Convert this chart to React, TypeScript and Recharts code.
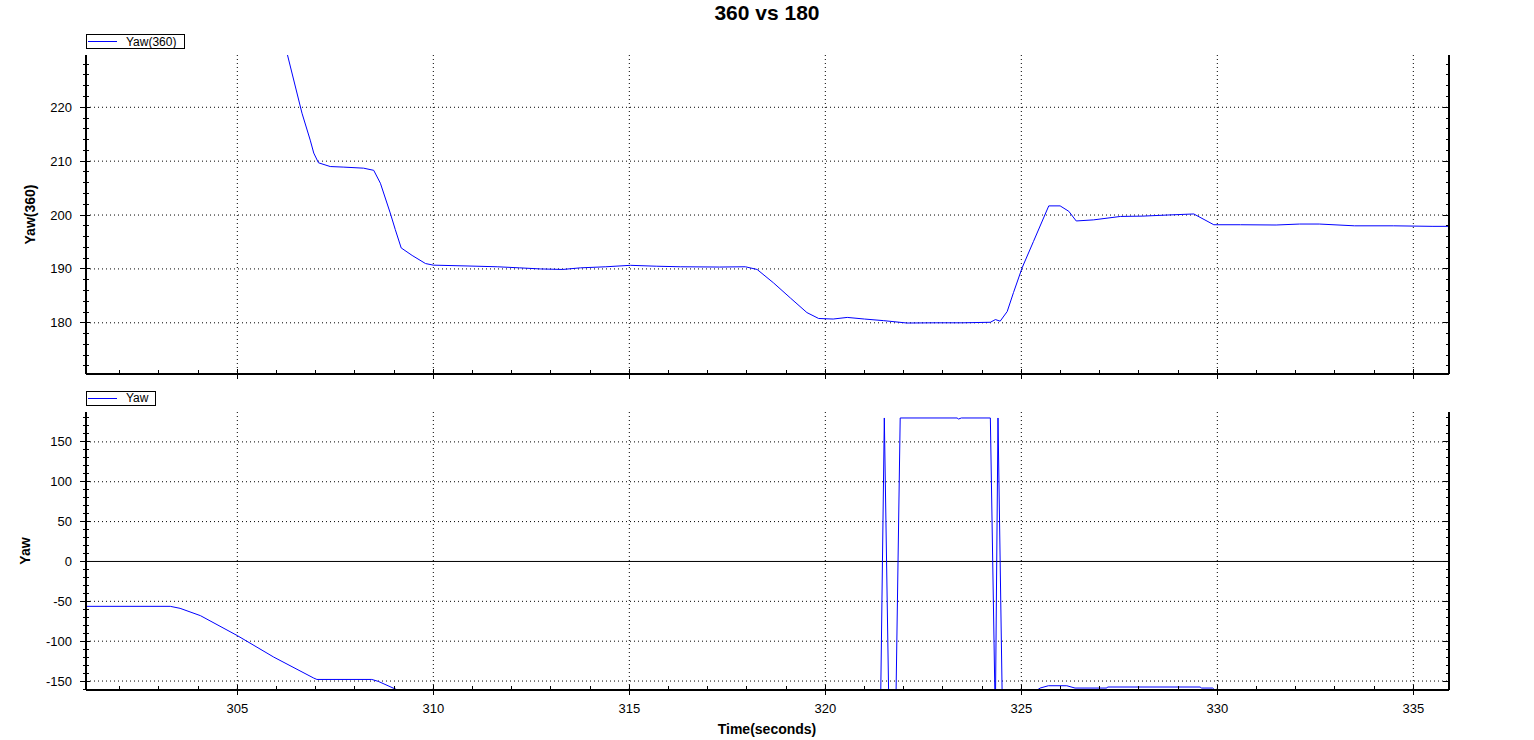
import React from 'react';
import { LineChart, Line, XAxis, YAxis, CartesianGrid, ReferenceLine } from 'recharts';

const FONT = '"Liberation Sans", Arial, sans-serif';
const BLUE = '#0000ff';
const W = 1534;

// Yaw(360) trace (top panel)
const yaw360Time = [
  301.14, 303.3, 303.55, 304.05, 305.0, 305.9, 306.28, 306.65, 306.86, 306.95, 307.07, 307.37,
  307.7, 308.22, 308.48, 308.65, 308.9, 309.03, 309.18, 309.46, 309.8, 310.0, 310.86, 311.63,
  312.2, 312.73, 313.3, 313.75, 314.4, 315.03, 315.7, 316.3, 317.3, 317.96, 318.26, 318.68,
  319.11, 319.53, 319.83, 320.2, 320.56, 321.0, 321.49, 322.08, 322.8, 323.5, 324.21, 324.34,
  324.46, 324.64, 324.8, 325.02, 325.31, 325.7, 325.99, 326.21, 326.4, 326.84, 327.53, 328.1,
  328.72, 329.4, 329.91, 330.59, 331.5, 332.1, 332.6, 333.5, 334.5, 335.5, 335.91,
];
const yaw360Values = [
  304, 304, 301.3, 292, 267, 240, 229.7, 218.9, 213.9, 211.5, 209.7, 209.0,
  208.9, 208.7, 208.3, 205.9, 200.4, 197.3, 193.9, 192.5, 191.0, 190.7, 190.55, 190.4,
  190.2, 190.0, 189.9, 190.2, 190.4, 190.67, 190.5, 190.4, 190.35, 190.4, 189.9, 187.4,
  184.6, 181.9, 180.8, 180.7, 181.0, 180.7, 180.4, 179.96, 180.0, 180.0, 180.1, 180.6,
  180.3, 182.1, 185.6, 190.2, 195.1, 201.7, 201.7, 200.7, 198.9, 199.1, 199.74, 199.8,
  200.0, 200.2, 198.2, 198.2, 198.15, 198.33, 198.33, 198.0, 198.0, 197.9, 197.9,
];

// Yaw trace (bottom panel), wraps at +/-180
const yawTime = [
  301.14, 303.29, 303.54, 304.06, 305.0, 305.93, 306.95, 307.03, 308.43, 308.6, 309.01, 309.5,
  312.0, 315.0, 318.0, 319.0, 319.8, 321.0, 321.41, 321.505, 321.62, 321.8, 321.91, 323.36,
  323.4, 323.47, 324.21, 324.33, 324.34, 324.405, 324.515, 324.9, 325.2, 325.48, 325.69, 326.16,
  326.37, 327.18, 327.2, 329.56, 329.6, 329.88, 329.95, 332.13, 332.16, 332.29, 332.32, 332.54,
  332.57, 332.7, 332.73, 335.91,
];
const yawValues = [
  -56.3, -56.3, -58.8, -68, -93, -120, -146.3, -148, -148, -150.5, -159.6, -169.4,
  -169.6, -169.4, -169.6, -173.4, -179.2, -179.3, -180, 180, -180, -180, 180, 180,
  178.7, 180, 180, -180, -180, 180, -180, -179.7, -168, -158.8, -155.9, -155.9,
  -158.8, -158.8, -157.5, -157.5, -158.8, -158.8, -162, -162, -160.8, -160.8, -162, -162,
  -160.8, -160.8, -162, -162,
];

const timeDomain = [301.14, 335.91];
const timeTicks = [
  302, 303, 304, 305, 306, 307, 308, 309, 310, 311, 312, 313, 314, 315, 316, 317, 318,
  319, 320, 321, 322, 323, 324, 325, 326, 327, 328, 329, 330, 331, 332, 333, 334, 335,
];
const timeGrid = [305, 310, 315, 320, 325, 330, 335];

const yaw360Domain = [170.5, 229.7];
const yaw360Ticks = [
  172, 174, 176, 178, 180, 182, 184, 186, 188, 190, 192, 194, 196, 198, 200,
  202, 204, 206, 208, 210, 212, 214, 216, 218, 220, 222, 224, 226, 228,
];
const yaw360Grid = [180, 190, 200, 210, 220];

const yawDomain = [-161.25, 187.5];
const yawTicks = [
  -160, -150, -140, -130, -120, -110, -100, -90, -80, -70, -60, -50, -40, -30, -20, -10, 0,
  10, 20, 30, 40, 50, 60, 70, 80, 90, 100, 110, 120, 130, 140, 150, 160, 170, 180,
];
const yawGrid = [-150, -100, -50, 50, 100, 150];

type PanelProps = {
  time: number[];
  values: number[];
  yDomain: number[];
  yTicks: number[];
  yGrid: number[];
  yMajor: number;
  top: number;
  height: number;
  marginTop: number;
  axisHeight: number;
  showTimeLabels: boolean;
  zeroLine?: boolean;
};

const frame = { stroke: '#000', strokeWidth: 2, shapeRendering: 'crispEdges' };

function Panel(p: PanelProps) {
  const data = p.time.map((t, i) => ({ t, v: p.values[i] }));
  const majorX = (v: number) => v % 5 === 0;
  const majorY = (v: number) => v % p.yMajor === 0;

  const bottomTick = ({ x, y, payload }: any) => {
    const major = majorX(payload.value);
    return (
      <g>
        <line x1={x} x2={x} y1={y - (major ? 5 : 4)} y2={major ? y + 5 : y} stroke="#000" shapeRendering="crispEdges" />
        {p.showTimeLabels && major && (
          <text x={x} y={y + 23} textAnchor="middle" fontSize={13} fontFamily={FONT} fill="#000">
            {payload.value}
          </text>
        )}
      </g>
    );
  };
  const topTick = ({ x, y, payload }: any) => (
    <line x1={x} x2={x} y1={y} y2={y + (majorX(payload.value) ? 6 : 3)} stroke="#000" shapeRendering="crispEdges" />
  );
  const leftTick = ({ x, y, payload }: any) => {
    const major = majorY(payload.value);
    return (
      <g>
        <line x1={x - (major ? 6 : 3)} x2={x + (major ? 4 : 3)} y1={y} y2={y} stroke="#000" shapeRendering="crispEdges" />
        {major && (
          <text x={x - 14} y={y + 4.5} textAnchor="end" fontSize={13} fontFamily={FONT} fill="#000">
            {payload.value}
          </text>
        )}
      </g>
    );
  };
  const rightTick = ({ x, y, payload }: any) => (
    <line x1={x - (majorY(payload.value) ? 6 : 3)} x2={x} y1={y} y2={y} stroke="#000" shapeRendering="crispEdges" />
  );

  return (
    <div style={{ position: 'absolute', left: 0, top: p.top }}>
      <LineChart width={W} height={p.height} data={data} margin={{ top: p.marginTop, right: 0, bottom: 0, left: 0 }}>
        <CartesianGrid stroke="#000" strokeDasharray="1 3" horizontalValues={p.yGrid} verticalValues={timeGrid} />
        {p.zeroLine && <ReferenceLine y={0} stroke="#000" strokeWidth={1} />}
        <XAxis
          dataKey="t" type="number" domain={timeDomain} allowDataOverflow ticks={timeTicks} interval={0}
          height={p.axisHeight} tickSize={0} tickMargin={0} tickLine={false} axisLine={frame} tick={bottomTick}
        />
        <XAxis
          xAxisId="top" orientation="top" dataKey="t" type="number" domain={timeDomain} allowDataOverflow
          ticks={timeTicks} interval={0} height={0} tickSize={0} tickMargin={0} tickLine={false} axisLine={frame} tick={topTick}
        />
        <YAxis
          type="number" domain={p.yDomain} allowDataOverflow ticks={p.yTicks} interval={0} width={86}
          tickSize={0} tickMargin={0} tickLine={false} axisLine={frame} tick={leftTick}
        />
        <YAxis
          yAxisId="right" orientation="right" type="number" domain={p.yDomain} allowDataOverflow ticks={p.yTicks}
          interval={0} width={85} tickSize={0} tickMargin={0} tickLine={false} axisLine={frame} tick={rightTick}
        />
        <Line type="linear" dataKey="v" stroke={BLUE} strokeWidth={1} dot={false} isAnimationActive={false} />
      </LineChart>
    </div>
  );
}

export default function App() {
  const txt = { fontFamily: FONT, fill: '#000' };
  return (
    <div style={{ position: 'absolute', left: 0, top: 0, width: W, height: 740, background: '#fff' }}>
      <Panel
        time={yaw360Time} values={yaw360Values} yDomain={yaw360Domain} yTicks={yaw360Ticks} yGrid={yaw360Grid}
        yMajor={10} top={0} height={395} marginTop={55} axisHeight={21} showTimeLabels={false}
      />
      <Panel
        time={yawTime} values={yawValues} yDomain={yawDomain} yTicks={yawTicks} yGrid={yawGrid}
        yMajor={50} top={395} height={345} marginTop={17} axisHeight={50} showTimeLabels zeroLine
      />
      <svg width={W} height={740} style={{ position: 'absolute', left: 0, top: 0, pointerEvents: 'none' }}>
        <text x={767} y={20} textAnchor="middle" fontSize={21} fontWeight="bold" {...txt}>360 vs 180</text>
        <text x={767} y={734} textAnchor="middle" fontSize={14} fontWeight="bold" {...txt}>Time(seconds)</text>
        <text transform="translate(35,214.5) rotate(-90)" textAnchor="middle" fontSize={14} fontWeight="bold" {...txt}>
          Yaw(360)
        </text>
        <text transform="translate(30,551) rotate(-90)" textAnchor="middle" fontSize={14} fontWeight="bold" {...txt}>
          Yaw
        </text>

        <rect x={86.5} y={34.5} width={98} height={14} fill="#fff" stroke="#000" />
        <line x1={88} x2={117} y1={41.5} y2={41.5} stroke={BLUE} />
        <text x={126} y={45.5} fontSize={12} {...txt}>Yaw(360)</text>

        <rect x={86.5} y={391.5} width={69} height={14} fill="#fff" stroke="#000" />
        <line x1={88} x2={117} y1={398.5} y2={398.5} stroke={BLUE} />
        <text x={126} y={402} fontSize={12} {...txt}>Yaw</text>
      </svg>
    </div>
  );
}
